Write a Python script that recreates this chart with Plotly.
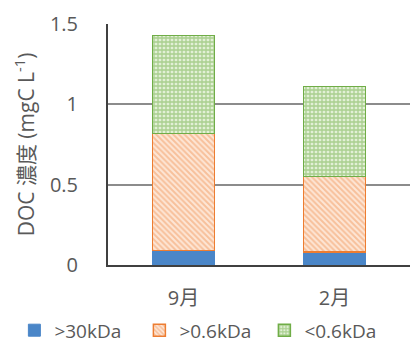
import plotly.graph_objects as go

categories = ["9月", "2月"]
series_names = [">30kDa", ">0.6kDa", "<0.6kDa"]
v_30k = [0.09, 0.08]
v_06k = [0.73, 0.47]
v_lt06k = [0.61, 0.56]
y_ticks = [0, 0.5, 1, 1.5]
y_tick_labels = ["0", "0.5", "1", "1.5"]

font_family = "Open Sans, Noto Sans CJK JP, sans-serif"
text_color = "#595959"
fig = go.Figure()
fig.add_trace(go.Bar(
    x=categories, y=v_30k, name=series_names[0],
    marker=dict(color="#4a86c8", line=dict(color="#4a86c8", width=1)),
))
fig.add_trace(go.Bar(
    x=categories, y=v_06k, name=series_names[1],
    marker=dict(color="#fde4d2", line=dict(color="#ed7d31", width=1.5),
                pattern=dict(shape="\\", fgcolor="#f29a60", bgcolor="#fde6d6",
                             size=4, solidity=0.5)),
))
fig.add_trace(go.Bar(
    x=categories, y=v_lt06k, name=series_names[2],
    marker=dict(color="#dcedd0", line=dict(color="#70ad47", width=1.5),
                pattern=dict(shape="+", fgcolor="#70ad47", bgcolor="#e2f0d6",
                             size=4, solidity=0.55)),
))

fig.update_layout(
    barmode="stack",
    bargap=0.59,
    width=410, height=347,
    margin=dict(l=108, r=0, t=24, b=82, autoexpand=False),
    paper_bgcolor="white", plot_bgcolor="white",
    font=dict(family=font_family, size=20, color=text_color),
    showlegend=True,
    legend=dict(orientation="h", x=-0.31, xanchor="left",
                y=-0.35, yanchor="bottom",
                bgcolor="rgba(0,0,0,0)",
                font=dict(size=19, color=text_color), traceorder="normal",
                itemwidth=30, tracegroupgap=0,
                entrywidth=80, entrywidthmode="pixels"),
    xaxis=dict(showline=True, linecolor="#404040", linewidth=2, ticks="",
               ticklabelstandoff=14,
               tickfont=dict(size=20, color=text_color)),
    yaxis=dict(range=[0, 1.5], tickvals=y_ticks, ticktext=y_tick_labels,
               showgrid=True, gridcolor="#8c8c8c", gridwidth=1.5,
               showline=True, linecolor="#404040", linewidth=2,
               zeroline=False, ticks="", ticklen=0,
               ticklabelstandoff=24,
               tickfont=dict(size=20, color=text_color),
               title=dict(text="DOC 濃度 (mgC L<sup>-1</sup>)", standoff=10,
                          font=dict(size=21, color=text_color))),
)

fig.write_html("out.html", config={"displayModeBar": False},
               post_script="document.body.style.margin='0';document.body.style.overflow='hidden';")
